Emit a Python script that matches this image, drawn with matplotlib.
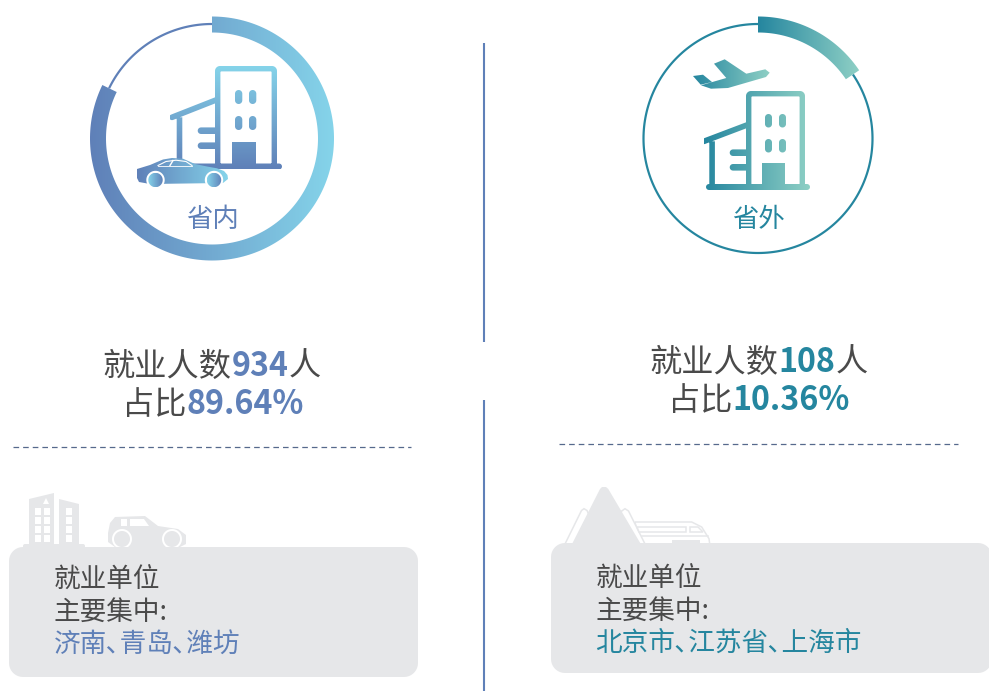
import numpy as np
import matplotlib
matplotlib.use('Agg')
import matplotlib.pyplot as plt
from matplotlib.colors import LinearSegmentedColormap
from matplotlib.patches import PathPatch
from matplotlib.path import Path

# values
regions = ['省内', '省外']
counts = [934, 108]
shares = ['89.64%', '10.36%']
# the drawn arcs do not follow the labelled shares, so these are measured
arc_degrees = [296, 56]
# halfwidth form of the comma, the picture sets it narrow
city_lines = ['济南､青岛､潍坊', '北京市､江苏省､上海市']

BLUE = '#5f80b8'
SKY = '#85d4ea'
TEAL = '#25869f'
MINT = '#8fd0c5'
DARK = '#4a4a4a'
GREY = '#e6e7e9'

plt.rcParams['font.family'] = ['Noto Sans CJK SC', 'DejaVu Sans']

fig = plt.figure(figsize=(9.89, 6.91), dpi=100)
ax = fig.add_axes([0, 0, 1, 1])
ax.set_autoscale_on(False)
ax.set_xlim(0, 989)
ax.set_ylim(691, 0)
ax.axis('off')


def poly(pts):
    """Closed path, always the same winding so compound shapes add up"""
    pts = np.array(pts, dtype=float)
    x, y = pts[:, 0], pts[:, 1]
    if np.sum(x * np.roll(y, -1) - np.roll(x, -1) * y) < 0:
        pts = pts[::-1]
    return Path(np.vstack([pts, pts[0]]), closed=True)


def rrect_pts(x0, y0, x1, y1, r):
    pts = []
    corners = [(x1 - r, y0 + r, -90), (x1 - r, y1 - r, 0), (x0 + r, y1 - r, 90), (x0 + r, y0 + r, 180)]
    for cx, cy, start in corners:
        t = np.radians(np.linspace(start, start + 90, 10))
        pts += list(zip(cx + r * np.cos(t), cy + r * np.sin(t)))
    return pts


def rrect(x0, y0, x1, y1, r=0):
    if r == 0:
        return poly([(x0, y0), (x1, y0), (x1, y1), (x0, y1)])
    return poly(rrect_pts(x0, y0, x1, y1, r))


def frame(x0, y0, x1, y1, wall, r):
    """Rounded outline as one polygon, hole joined with a zero width slit"""
    outer = rrect_pts(x0, y0, x1, y1, r)
    inner = rrect_pts(x0 + wall, y0 + wall, x1 - wall, y1 - wall, 1)[::-1]
    return Path(np.array(outer + [outer[0]] + inner + [inner[0], outer[0]], dtype=float), closed=False)


def circle(cx, cy, r):
    t = np.linspace(0, 2 * np.pi, 60, endpoint=False)
    return poly(list(zip(cx + r * np.cos(t), cy + r * np.sin(t))))


def bar(p0, p1, w):
    """Straight stroke with round ends"""
    (x0, y0), (x1, y1) = p0, p1
    a = np.arctan2(y1 - y0, x1 - x0)
    t0 = np.linspace(a + np.pi / 2, a + 3 * np.pi / 2, 10)
    t1 = np.linspace(a - np.pi / 2, a + np.pi / 2, 10)
    r = w / 2
    pts = list(zip(x0 + r * np.cos(t0), y0 + r * np.sin(t0)))
    pts += list(zip(x1 + r * np.cos(t1), y1 + r * np.sin(t1)))
    return poly(pts)


def arc(cx, cy, r0, r1, start, sweep):
    """Ring sector, angles clockwise from 12 o'clock"""
    t = np.radians(np.linspace(start, start + sweep, 200))
    outer = list(zip(cx + r1 * np.sin(t), cy - r1 * np.cos(t)))
    inner = list(zip(cx + r0 * np.sin(t), cy - r0 * np.cos(t)))
    return poly(outer + inner[::-1])


def grad_fill(paths, box, c0, c1, vertical=False, z=2):
    """Gradient image clipped to a shape. box = x0, x1, y0, y1 in pixels"""
    path = Path.make_compound_path(*paths)
    ramp = np.linspace(0, 1, 256)
    ramp = ramp[:, None] if vertical else ramp[None, :]
    cmap = LinearSegmentedColormap.from_list('g', [c0, c1])
    x0, x1, y0, y1 = box
    im = ax.imshow(ramp, cmap=cmap, extent=(x0, x1, y1, y0), origin='upper',
                   aspect='auto', interpolation='bilinear', zorder=z)
    im.set_clip_path(path, ax.transData)


def solid(path, color, z=3):
    ax.add_patch(PathPatch(path, fc=color, ec='none', lw=0, zorder=z))


def outlined(pts, z=1):
    ax.add_patch(PathPatch(poly(pts), fc='#ffffff', ec=GREY, lw=1.1, zorder=z))


def building_parts(tx0, tx1, ty0, by, base0, base1, roof0, roof1, col0,
                   barx, bary, winx, winy, winw, winh, door):
    parts = [
        frame(tx0, ty0, tx1, by + 6, 5.4, 5),
        bar((base0, by + 3), (base1, by + 3), 6),
        bar(roof0, roof1, 5.7),
        rrect(col0, roof0[1], col0 + 5.6, by + 1),
        rrect(*door),
    ]
    for y in bary:
        parts.append(bar((barx, y), (tx0 + 1, y), 6.6))
    for wx in winx:
        for wy in winy:
            parts.append(rrect(wx, wy, wx + winw, wy + winh, winw / 2))
    return parts


def text_runs(x, baseline, runs, size):
    """Left to right text pieces with different colour and weight on one baseline"""
    rend = fig.canvas.get_renderer()
    for s, color, weight in runs:
        t = ax.text(x, baseline, s, fontsize=size, color=color, fontweight=weight,
                    ha='left', va='baseline', zorder=6)
        x += t.get_window_extent(rend).width


# centre divider, broken in two
ax.plot([484, 484], [43, 342], color=BLUE, lw=1.5, solid_capstyle='butt', zorder=1)
ax.plot([484, 484], [400, 691], color=BLUE, lw=1.5, solid_capstyle='butt', zorder=1)

# left ring
lcx, lcy = 212, 138.5
solid(arc(lcx, lcy, 113.4, 115.6, arc_degrees[0], 360 - arc_degrees[0]), BLUE, 2)
grad_fill([arc(lcx, lcy, 106, 122, 0, arc_degrees[0])], (90, 334, 16, 261), BLUE, SKY)

# right ring
rcx, rcy = 758, 138.5
solid(arc(rcx, rcy, 113.4, 115.6, arc_degrees[1], 360 - arc_degrees[1]), TEAL, 2)
grad_fill([arc(rcx, rcy, 106, 122, 0, arc_degrees[1])], (758, 860, 16, 80), TEAL, MINT)

# left building
grad_fill(building_parts(215, 277, 66, 163.5, 173, 279, (172, 117.3), (216, 100), 176.7,
                         201, [130.7, 145.7], [235, 249], [90, 116], 7.3, 14, (232, 142, 256, 164)),
          (170, 283, 66, 169), SKY, BLUE, vertical=True)

# car in front of it
car_body = poly([(137, 169), (150, 165), (163, 159.5), (172, 158), (183, 158.7), (195, 164), (207, 166.5),
                 (217, 168.3), (224, 171), (227.5, 175), (228, 179), (223, 183), (150, 184), (139, 182), (137, 178)])
grad_fill([car_body], (137, 228, 158, 184), BLUE, SKY, z=3)
ax.plot([158, 166, 176, 186, 192], [165.5, 161.5, 160.2, 161.5, 165.5], color='#ffffff', lw=0.8, zorder=4)
ax.plot([158, 192], [165.5, 165.5], color='#ffffff', lw=0.6, zorder=4)
ax.plot([173, 170], [160.5, 165.5], color='#ffffff', lw=1.0, zorder=4)
for wx in (155.5, 214):
    solid(circle(wx, 180, 9.2), '#ffffff', 4)
    grad_fill([circle(wx, 180, 7.2)], (wx - 7.2, wx + 7.2, 173, 187), SKY, BLUE, z=5)

# right building
grad_fill(building_parts(746, 805, 91, 184, 709, 807, (704, 141.3), (747, 125), 709.3,
                         733, [152.7, 167.3], [765, 779], [114, 139], 7, 13.5, (762, 163, 785, 184)),
          (704, 810, 91, 190), TEAL, MINT)

# plane
plane = [
    poly([(714, 63.7), (724.7, 59.3), (746.3, 73.7), (765.3, 69.3), (769.7, 72.7), (766, 77), (728, 88),
          (711, 88.7), (701, 85.3), (726.3, 78)]),
    poly([(693, 76), (703, 74.7), (712, 82), (700.7, 84.7)]),
]
grad_fill(plane, (693, 770, 59, 90), TEAL, MINT)

# captions inside the rings
ax.text(lcx, 227, regions[0], fontsize=19, color=BLUE, ha='center', va='baseline', zorder=6)
ax.text(rcx, 227, regions[1], fontsize=19, color=TEAL, ha='center', va='baseline', zorder=6)

# headline numbers
text_runs(102.5, 376, [('就业人数', DARK, 'normal'), (str(counts[0]), BLUE, 'bold'), ('人', DARK, 'normal')], 23.2)
text_runs(122, 414, [('占比', DARK, 'normal'), (shares[0], BLUE, 'bold')], 23.2)
text_runs(649.5, 372, [('就业人数', DARK, 'normal'), (str(counts[1]), TEAL, 'bold'), ('人', DARK, 'normal')], 23.2)
text_runs(668, 410, [('占比', DARK, 'normal'), (shares[1], TEAL, 'bold')], 23.2)

# dashed rules
ax.plot([13, 411], [447, 447], color='#56698c', lw=0.9, dashes=(4.5, 3.2), zorder=1)
ax.plot([559, 958], [443.5, 443.5], color='#56698c', lw=0.9, dashes=(4.5, 3.2), zorder=1)

# grey skyline, left
solid(poly([(29, 499), (54, 493), (54, 548), (29, 548)]), GREY, 1)
solid(poly([(59, 499), (79, 504), (79, 548), (59, 548)]), GREY, 1)
solid(rrect(23, 544, 85, 549, 2), GREY, 1)
solid(poly([(43, 504), (49, 504), (46, 498)]), '#ffffff', 2)
for wx in (35, 43.5, 66):
    for wy in (508, 517, 526, 535):
        solid(rrect(wx, wy, wx + 6, wy + 6.5), '#ffffff', 2)
solid(poly([(108, 533), (110, 523), (115, 517), (145, 516), (158, 526), (178, 529), (186, 535), (186, 544),
            (180, 547), (115, 547), (108, 542)]), GREY, 1)
solid(rrect(121, 519, 127, 526), '#ffffff', 2)
solid(poly([(130, 519), (144, 519), (149, 526), (130, 526)]), '#ffffff', 2)
for wx in (122, 172):
    solid(circle(wx, 539, 10), '#ffffff', 2)
    solid(circle(wx, 539, 8), GREY, 2)

# grey skyline, right
outlined([(564, 546), (581.5, 510.5), (584, 508.7), (587, 510.5), (596, 530), (590, 546)])
outlined([(616, 530), (621.7, 511), (625, 508.7), (628.5, 511), (646, 546), (622, 546)])
outlined([(635, 522), (691.7, 522), (701.7, 527), (709, 538.7), (710, 546), (640, 546)], z=0.8)
solid(poly([(571, 546), (600, 489), (602, 487), (606, 487), (608.3, 489), (642, 546)]), GREY, 2)
outlined([(637, 526.5), (685.5, 526.5), (685.5, 532), (639, 532)])
outlined([(690, 527), (698, 527), (703, 532), (690, 532)])
ax.plot([642, 708], [535.5, 535.5], color=GREY, lw=1.1, zorder=1)
solid(rrect(672, 540, 700, 545), GREY, 1)

# info cards
solid(rrect(9, 547, 418, 677, 14), GREY, 3)
solid(rrect(551, 543, 992, 673, 14), GREY, 3)

for x, base, color, cities in ((53.5, 588, BLUE, city_lines[0]), (595.5, 587, TEAL, city_lines[1])):
    text_runs(x, base, [('就业单位', DARK, 'normal')], 19.2)
    text_runs(x, base + 32, [('主要集中:', DARK, 'normal')], 19.2)
    text_runs(x, base + 64, [(cities, color, 'normal')], 19.2)

fig.savefig('out.png', dpi=100)
